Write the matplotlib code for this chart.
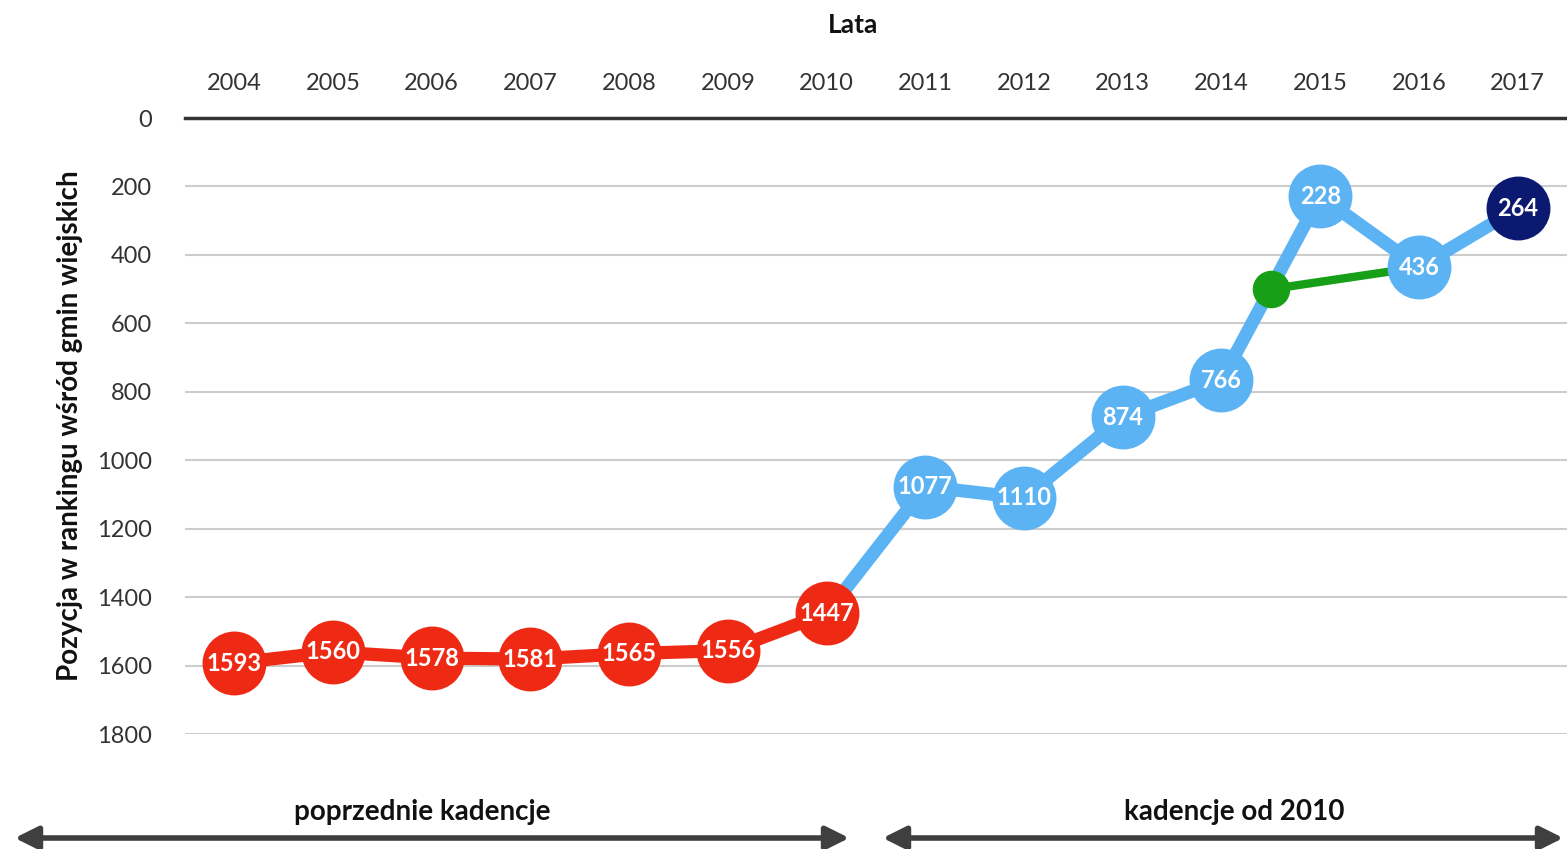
import matplotlib
matplotlib.use("Agg")
from matplotlib import pyplot as plt

plt.rcParams['font.family'] = ['Lato', 'DejaVu Sans']

# data
years_old = [2004, 2005, 2006, 2007, 2008, 2009, 2010]
rank_old = [1593, 1560, 1578, 1581, 1565, 1556, 1447]

years_new = [2010, 2011, 2012, 2013, 2014, 2015, 2016, 2017]
rank_new = [1447, 1077, 1110, 874, 766, 228, 436, 264]

green_x = [2014.5, 2016]
green_y = [500, 436]

all_years = list(range(2004, 2018))
y_ticks = [0, 200, 400, 600, 800, 1000, 1200, 1400, 1600, 1800]

red = "#ef2a14"
blue = "#5cb3f4"
navy = "#0b1970"
green = "#17a017"
grey_text = "#333333"

fig = plt.figure(figsize=(15.67, 8.49), dpi=100)
ax = fig.add_axes([0.118, 0.1354, 0.882, 0.7256])

# grid
for t in y_ticks[1:]:
    ax.axhline(t, color="#cccccc", lw=1.5, zorder=0)

# blue line (under red marker at 2010)
ax.plot(years_new, rank_new, color=blue, lw=9.5, zorder=2, solid_capstyle='round')
ax.plot(years_new[1:-1], rank_new[1:-1], 'o', color=blue, ms=45, zorder=4)
ax.plot(years_new[-1], rank_new[-1], 'o', color=navy, ms=45, zorder=4)

# green segment
ax.plot(green_x, green_y, color=green, lw=6, zorder=3)
ax.plot(green_x[0], green_y[0], 'o', color=green, ms=26, zorder=3)

# red line
ax.plot(years_old, rank_old, color=red, lw=9.5, zorder=3)
ax.plot(years_old, rank_old, 'o', color=red, ms=45, zorder=4)

# labels in markers
for x, y in zip(years_old + years_new[1:], rank_old + rank_new[1:]):
    ax.text(x, y, str(y), color="white", ha="center", va="center", fontsize=17,
            fontweight="bold", zorder=5)

ax.set_xlim(2003.5, 2017.5)
ax.set_ylim(1800, 0)
ax.set_yticks(y_ticks)
ax.set_xticks(all_years)
ax.xaxis.tick_top()
ax.tick_params(axis='both', length=0, labelsize=17, colors=grey_text)
ax.tick_params(axis='x', pad=17)
ax.tick_params(axis='y', pad=24)
for s in ['left', 'right', 'bottom']:
    ax.spines[s].set_visible(False)
ax.spines['top'].set_color("#333333")
ax.spines['top'].set_linewidth(2.5)

ax.set_ylabel("Pozycja w rankingu wśród gmin wiejskich", fontsize=20,
              fontweight="bold", color="#111111", labelpad=10)
fig.text(853 / 1567, 1 - 25 / 849, "Lata", ha="center", va="center",
         fontsize=19, fontweight="bold", color="#111111")

# kadencje arrows
fig.text(422 / 1567, 1 - 812 / 849, "poprzednie kadencje", ha="center", va="center",
         fontsize=20, fontweight="bold", color="#111111")
fig.text(1234 / 1567, 1 - 812 / 849, "kadencje od 2010", ha="center", va="center",
         fontsize=20, fontweight="bold", color="#111111")
arrow_y = 1 - 838 / 849
fig.add_artist(matplotlib.patches.FancyArrowPatch((12 / 1567, arrow_y), (852 / 1567, arrow_y),
               transform=fig.transFigure, arrowstyle="<|-|>,head_length=14,head_width=7",
               color="#3f3f3f", lw=4, mutation_scale=1))
fig.add_artist(matplotlib.patches.FancyArrowPatch((880 / 1567, arrow_y), (1566 / 1567, arrow_y),
               transform=fig.transFigure, arrowstyle="<|-|>,head_length=14,head_width=7",
               color="#3f3f3f", lw=4, mutation_scale=1))

plt.savefig("out.png", dpi=100)
